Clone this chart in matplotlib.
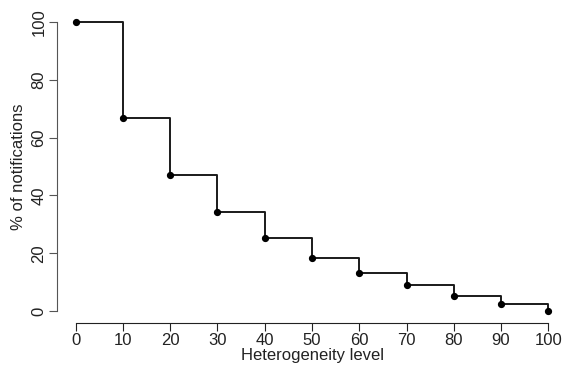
import numpy as np
import matplotlib.pyplot as plt

plt.rcParams['font.family'] = ['Liberation Sans', 'DejaVu Sans']

# heterogeneity levels and % of notifications
levels = [0, 10, 20, 30, 40, 50, 60, 70, 80, 90, 100]
pct_notif = [100, 66.7, 47.2, 34.4, 25.2, 18.3, 13.0, 8.9, 5.3, 2.5, 0]
xticks = [0, 10, 20, 30, 40, 50, 60, 70, 80, 90, 100]
yticks = [0, 20, 40, 60, 80, 100]

fig = plt.figure(figsize=(5.68, 3.67), dpi=100)
ax = fig.add_axes([0.100, 0.121, 0.8986, 0.8507])

ax.step(levels, pct_notif, where='post', color='#1a1a1a', lw=1.4)
ax.plot(levels, pct_notif, 'o', color='black', ms=4.2)

ax.set_xlim(-4, 104)
ax.set_ylim(-4, 104)

# axes style a la R
for s in ['top', 'right']:
    ax.spines[s].set_visible(False)
ax.spines['left'].set_bounds(0, 100)
ax.spines['bottom'].set_bounds(0, 100)
ax.spines['left'].set_color('#555555')
ax.spines['bottom'].set_color('#222222')

ax.set_xticks(xticks)
ax.set_yticks(yticks)
ax.tick_params(axis='both', length=6, labelsize=12, direction='out', pad=1.5)
ax.tick_params(axis='y', colors='#555555', labelcolor='#222222')
ax.tick_params(axis='x', colors='#222222', labelcolor='#222222')
ax.set_yticklabels([str(v) for v in yticks], rotation=90, va='center')

ax.set_xlabel('Heterogeneity level', fontsize=12, labelpad=0, color='#222222')
ax.set_ylabel('% of notifications', fontsize=12, labelpad=4, color='#222222')

fig.savefig('out.png', dpi=100)
